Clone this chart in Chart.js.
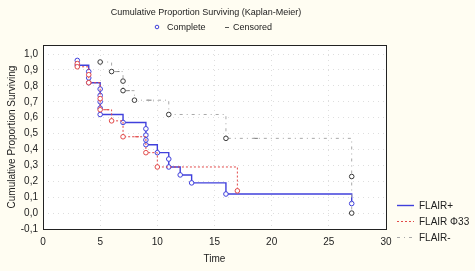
<!DOCTYPE html>
<html><head><meta charset="utf-8">
<script src="https://cdn.jsdelivr.net/npm/chart.js@4/dist/chart.umd.min.js"></script>
<style>html,body{margin:0;padding:0;background:#fffdf2;}canvas{display:block;}</style>
</head><body>
<canvas id="c" width="475" height="271"></canvas>
<script>
// ---- data ----
const seriesNames = ["FLAIR+", "FLAIR \u03A633", "FLAIR-"];
const blueT = [3,3,4,4,4,5,5,5,5,5,7,9,9,9,9,10,11,11,12,13,16,27];
const blueS = [0.96,0.93,0.89,0.85,0.82,0.78,0.74,0.70,0.66,0.62,0.57,0.53,0.49,0.46,0.43,0.38,0.34,0.29,0.24,0.19,0.12,0.06];
const redT = [3,3,4,4,5,5,6,7,9,10,17];
const redS = [0.94,0.92,0.87,0.82,0.72,0.65,0.58,0.48,0.38,0.29,0.14];
const blackT = [5,6,7,7,8,11,16,27,27];
const blackS = [0.95,0.89,0.83,0.77,0.71,0.62,0.47,0.23,0.0];
const redCensT = [5.6, 8.2];
const redCensS = [0.65, 0.48];
const blackCensT = [6.5, 7.4, 9.3, 18.6];
const blackCensS = [0.89, 0.77, 0.71, 0.47];
const xTicks = [0,5,10,15,20,25,30];
const yTicks = [-0.1,0,0.1,0.2,0.3,0.4,0.5,0.6,0.7,0.8,0.9,1.0];
const titleText = "Cumulative Proportion Surviving (Kaplan-Meier)";
const markerLegend = ["Complete", "Censored"];
const xTitle = "Time";
const yTitle = "Cumulative Proportion Surviving";

const pts = (t, s) => t.map((v, i) => ({x: v, y: s[i]}));
const FONT = "'Liberation Sans', Arial, sans-serif";
Chart.defaults.font.family = FONT;
Chart.defaults.color = '#222';

const styles = [
  {color: '#4040dc', dash: [], width: 1.4},
  {color: '#e24a4a', dash: [2, 2], width: 1},
  {color: '#a8a8a8', dash: [3, 4, 1, 4], width: 1}
];

const bgPlugin = {
  id: 'bg',
  beforeDraw(chart) {
    const {ctx, chartArea: a} = chart;
    ctx.save();
    ctx.fillStyle = '#fffdf2';
    ctx.fillRect(0, 0, chart.width, chart.height);
    ctx.fillStyle = '#ffffff';
    ctx.fillRect(a.left, a.top, a.right - a.left, a.bottom - a.top);
    ctx.restore();
  },
  afterDraw(chart) {
    const {ctx, chartArea: a} = chart;
    ctx.save();
    // frame
    ctx.setLineDash([]);
    ctx.strokeStyle = '#222';
    ctx.lineWidth = 1;
    ctx.strokeRect(Math.round(a.left) + 0.5, Math.round(a.top) + 0.5,
                   Math.round(a.right - a.left), Math.round(a.bottom - a.top));
    // title
    ctx.fillStyle = '#222';
    ctx.font = '9px ' + FONT;
    ctx.textAlign = 'center';
    ctx.textBaseline = 'middle';
    ctx.fillText(titleText, 206, 13);
    // marker legend
    ctx.textAlign = 'left';
    ctx.strokeStyle = '#4040dc';
    ctx.beginPath(); ctx.arc(157, 27, 1.8, 0, Math.PI * 2); ctx.stroke();
    ctx.fillText(markerLegend[0], 167, 28);
    ctx.strokeStyle = '#555';
    ctx.beginPath(); ctx.moveTo(225, 27.5); ctx.lineTo(229, 27.5); ctx.stroke();
    ctx.fillText(markerLegend[1], 233, 28);
    // series legend
    ctx.font = '10px ' + FONT;
    const ys = [205, 221, 237];
    seriesNames.forEach((n, i) => {
      const s = styles[i];
      ctx.strokeStyle = s.color;
      ctx.lineWidth = s.width;
      ctx.setLineDash(s.dash);
      ctx.beginPath(); ctx.moveTo(397, ys[i] + 0.5); ctx.lineTo(414, ys[i] + 0.5); ctx.stroke();
      ctx.setLineDash([]);
      ctx.fillStyle = '#222';
      ctx.fillText(n, 419, ys[i] + 1);
    });
    ctx.restore();
  }
};

function lineDs(label, data, i, pointColor) {
  const s = styles[i];
  return {
    label, data, stepped: true,
    borderColor: s.color, borderWidth: s.width, borderDash: s.dash,
    pointStyle: 'circle', pointRadius: 2.3, pointBorderWidth: 1,
    pointBorderColor: pointColor, pointBackgroundColor: '#ffffff',
    fill: false
  };
}
function censDs(label, data, color) {
  return {
    label, data, showLine: false,
    pointStyle: 'line', pointRadius: 2.2, pointBorderWidth: 1,
    pointBorderColor: color, borderColor: color
  };
}

new Chart(document.getElementById('c'), {
  type: 'line',
  data: {
    datasets: [
      lineDs(seriesNames[2], pts(blackT, blackS), 2, '#3a3a3a'),
      censDs('cens-', pts(blackCensT, blackCensS), '#777777'),
      lineDs(seriesNames[1], pts(redT, redS), 1, '#e24a4a'),
      censDs('censR', pts(redCensT, redCensS), '#e24a4a'),
      lineDs(seriesNames[0], pts(blueT, blueS), 0, '#4040dc')
    ]
  },
  options: {
    responsive: false, animation: false, devicePixelRatio: 1,
    layout: {padding: {top: 45, right: 89, left: 0, bottom: 0}},
    plugins: {legend: {display: false}, tooltip: {enabled: false}, title: {display: false}},
    scales: {
      x: {
        type: 'linear', min: 0, max: 30,
        afterBuildTicks: s => { s.ticks = xTicks.map(v => ({value: v})); },
        afterFit: s => { s.height = 42; },
        ticks: {font: {size: 10}, color: '#222', padding: 7, maxRotation: 0},
        grid: {color: '#dedede', drawTicks: false},
        border: {display: false, dash: [1, 4]},
        title: {display: true, text: xTitle, font: {size: 10}, color: '#222', padding: {top: 0, bottom: 6}}
      },
      y: {
        type: 'linear', min: -0.1, max: 1.057,
        afterBuildTicks: s => { s.ticks = yTicks.map(v => ({value: v})); },
        afterFit: s => { s.width = 43; },
        ticks: {font: {size: 10}, color: '#222', padding: 5,
                callback: v => v.toFixed(1).replace('.', ',')},
        grid: {color: '#dedede', drawTicks: false},
        border: {display: false, dash: [1, 4]},
        title: {display: true, text: yTitle, font: {size: 10}, color: '#222', padding: {top: 6, bottom: 0}}
      }
    }
  },
  plugins: [bgPlugin]
});
</script>
</body></html>
